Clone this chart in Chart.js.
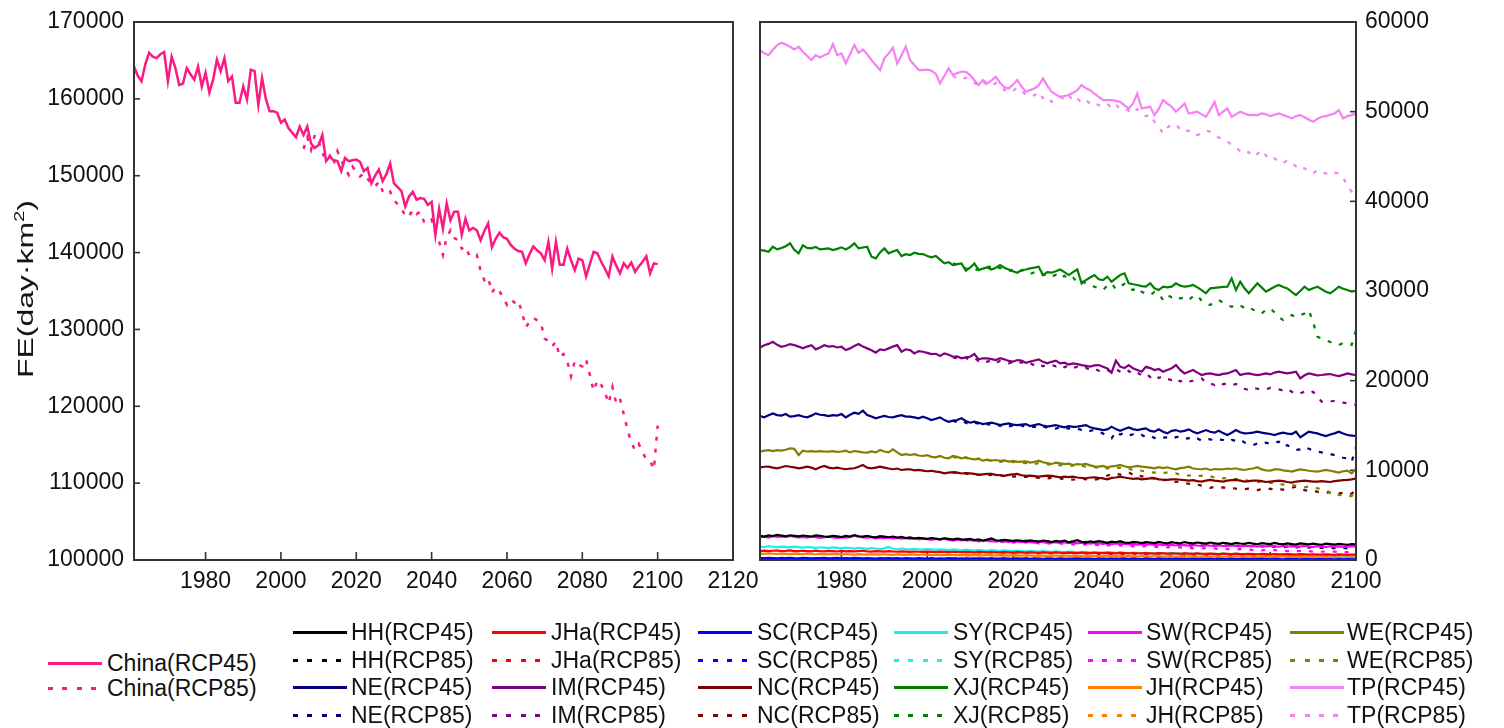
<!DOCTYPE html>
<html>
<head>
<meta charset="utf-8">
<script src="https://cdn.jsdelivr.net/npm/chart.js@4.4.1/dist/chart.umd.min.js"></script>
<style>
  html, body { margin: 0; padding: 0; background: #fff; }
  body { width: 1504px; height: 728px; position: relative; overflow: hidden;
         font-family: "Liberation Sans", Arial, sans-serif; color: #111; }
  #chartLeft  { position: absolute; left: 0;     top: -20px; width: 790px; height: 640px; }
  #chartRight { position: absolute; left: 720px; top: -20px; width: 784px; height: 640px; }
  .ytitle { position: absolute; left: 26px; top: 289px; font-size: 22px; white-space: nowrap;
            transform: translate(-50%, -50%) rotate(-90deg) scaleX(1.45); line-height: 24px; }
  .ytitle sup { font-size: 14px; vertical-align: 9px; line-height: 0; }
  .lg-text { position: absolute; font-size: 23px; line-height: 26px; white-space: nowrap; color: #111; }
  .lg-line { position: absolute; height: 3px; }
</style>
</head>
<body>
<canvas id="chartLeft" width="790" height="640"></canvas>
<canvas id="chartRight" width="784" height="640"></canvas>
<div class="ytitle">FE(day·km<sup>2</sup>)</div>
<div id="legend"></div>
<script>
// ---- tick labels ----
const xTicksLeft  = [1980, 2000, 2020, 2040, 2060, 2080, 2100, 2120];
const xTicksRight = [1980, 2000, 2020, 2040, 2060, 2080, 2100];
const yTicksLeft  = [100000, 110000, 120000, 130000, 140000, 150000, 160000, 170000];
const yTicksRight = [0, 10000, 20000, 30000, 40000, 50000, 60000];

// ---- first years of the two scenario runs ----
const startRCP45 = 1961;   // historical + RCP4.5, 1961-2100
const startRCP85 = 2006;   // RCP8.5, 2006-2100

// ---- China total FE (day·km²) ----
const china45 = [
  164200,163000,162300,164500,166000,165500,165300,165800,166100,162300,
  165500,164000,161800,162000,164000,163200,162500,164200,161600,163400,
  160800,162500,165100,163600,165300,162300,162900,159500,159500,161600,
  159900,163800,163600,159200,162700,160000,158400,158400,158200,156900,
  157300,156200,155600,155000,156400,155300,156400,154200,153600,154000,
  155300,151900,152500,152000,151900,150600,152300,151900,152000,152100,
  151800,150600,151000,149000,150000,150800,149300,150200,151600,149000,
  148500,148000,146000,147300,147900,146900,147100,147000,146200,146600,
  142300,145700,143100,146400,144200,145300,145300,142300,144400,142900,
  143200,142900,141600,142800,143800,140700,141800,142600,142000,141800,
  141000,140500,140200,140100,138600,139800,140800,140300,139900,139000,
  141400,137900,141400,138400,138400,140500,139000,137700,139200,139000,
  136900,138500,140100,139900,138800,137900,136900,139500,138300,137300,
  138600,138000,138700,137500,138200,138800,139500,137300,138600,138500
];
const china85 = [
  153500,155000,153400,155300,154500,
  153000,152000,152600,151500,153200,152000,151000,150100,151200,150500,
  149900,150300,149600,149000,148600,149200,148000,147500,147900,146800,
  146300,145800,144700,144700,145600,145000,145300,144000,143800,144300,
  142500,141400,139700,142000,142900,141900,141600,140500,140800,139600,
  139500,139700,137600,136400,136800,134800,135500,135000,134100,133200,
  133900,133500,133800,132200,130300,131000,131500,131200,130900,128800,
  128500,127800,128400,126400,126800,125900,123900,125900,125400,125200,
  126100,124100,122000,123400,122800,121800,120400,122500,120400,121000,
  119000,116900,115300,114300,115100,114000,113100,112900,111800,117500
];

// ---- regional FE (day·km²) ----
const tp45 = [
  56870,56500,56310,56900,57420,57680,57500,57240,56940,57240,
  56680,56200,55750,56310,56050,56300,56490,57530,56310,56490,
  55380,56400,57420,56570,56940,56400,55750,55200,54640,55940,
  56500,57130,55380,56300,57240,55750,55200,54640,54640,54700,
  54570,54200,53150,54000,54820,54080,54300,54450,54450,54080,
  53500,52960,53520,53150,53500,53890,53200,52710,52590,53000,
  53520,52800,52220,52400,52590,52960,53710,52900,52220,51900,
  51660,51750,51850,52100,52400,52960,52600,52400,52000,51660,
  51290,51300,51290,51200,51100,50700,50360,50920,52030,50360,
  50450,50550,49620,50300,51290,50900,50550,49990,50400,50920,
  49800,49900,49990,49700,49430,50200,51100,49620,50000,50360,
  49430,49700,49990,49800,49620,49650,49620,49800,49700,49500,
  49650,49800,49620,49450,49250,49500,49620,49370,49100,48870,
  49200,49430,49500,49650,49800,50170,49250,49500,49620,49800
];
const tp85 = [
  54000,53700,53520,53800,53600,
  53200,52900,53300,53000,52800,53200,52900,52400,52590,52300,
  52700,52300,51900,52030,51800,52200,51500,51700,51100,51300,
  51600,51400,51900,51200,51500,51000,51290,50900,51100,50700,
  50920,50920,50400,50800,50300,50360,50100,49800,50300,49800,
  49500,49700,48870,48300,47570,48200,48600,48600,48000,47700,
  47900,47400,47390,47600,47900,47760,47300,47100,47020,46700,
  46270,46000,45600,45270,45500,44970,45300,45720,45100,44600,
  44800,44400,44230,44600,44300,43900,43490,43700,43300,43110,
  43500,43300,43100,42930,43200,43110,42700,41630,41100,40700
];
const xj45 = [
  34570,34500,34380,34940,34640,34800,34990,35310,34600,34200,
  35100,34800,34750,34900,34640,34700,34750,34570,34700,34870,
  34640,34900,35310,34750,34850,34940,33820,33640,34300,34750,
  34200,34400,34570,33900,34100,34010,34270,34150,34120,33900,
  33750,33900,33500,33080,33200,32890,33000,33080,32260,32600,
  33080,32330,32500,32630,32400,32600,32890,32600,32400,32200,
  32040,32330,32400,32520,32600,32700,31780,32100,32040,32200,
  32400,32100,31780,32100,32400,30850,31220,31500,31780,31300,
  31220,31600,31040,31400,31780,31970,30850,30750,30670,30550,
  30480,30850,30300,30110,30480,30400,30480,30850,30600,30480,
  30550,30670,30410,30100,29740,30290,30350,30410,30450,30480,
  31410,30110,31040,30300,29740,30300,30850,30400,29920,30200,
  30480,30670,30450,30290,29900,29550,30000,30480,30110,30300,
  30480,30200,29920,29740,30100,30480,30250,30110,29920,30000
];
const xj85 = [
  33080,32900,32700,32500,32400,
  32260,32500,32600,32700,32700,32400,32600,32300,32200,32400,
  32100,32300,32150,31900,32100,31900,31780,31900,31600,31800,
  31400,31700,31300,31500,31000,31200,30800,30700,30480,30300,
  30110,30600,30850,30200,30500,30800,30300,30110,30400,29920,
  29700,29550,29900,29740,29000,29550,29300,29500,29170,29300,
  29000,29400,29550,28900,28600,28430,28800,28990,28700,28400,
  28250,28500,28400,28100,28250,27900,27800,27500,27900,28060,
  27600,27100,26760,27000,27320,27100,27300,27500,27870,26500,
  24900,24700,24530,24300,24100,23970,24200,24160,24000,25640
];
const im45 = [
  23710,23960,24100,24340,24000,23780,23900,24080,23960,23800,
  23600,23800,23960,23490,23700,23960,23800,23860,23700,23780,
  23410,23600,23860,24080,23800,23600,23400,23120,23490,23400,
  23600,23800,23960,23230,23500,23410,23040,23300,23230,23100,
  22970,23000,22750,23040,22900,22670,22700,22490,22600,22670,
  22970,22380,22500,22490,22400,22300,22500,22380,22200,22120,
  22300,22230,22000,22120,22250,22380,22100,21930,22100,22230,
  21930,22000,21800,21930,21850,21740,21650,21560,21700,21740,
  21550,21370,20890,22230,21560,21400,21740,21370,21200,21000,
  21560,21400,21190,21300,21000,21200,21370,21740,21200,20810,
  21000,21190,20900,20630,20750,20810,20700,20630,20750,20810,
  21000,21190,20630,20750,20810,20700,20630,20700,20810,20700,
  20900,21000,20900,20810,20900,21000,20260,20600,20810,20700,
  20600,20630,20700,20740,20600,20520,20650,20810,20700,20630
];
const im85 = [
  22600,22500,22400,22550,22300,
  22500,22200,22350,22100,22300,22000,22200,22000,21930,22100,
  21900,22050,21800,21950,21700,21900,21600,21800,21750,21600,
  21800,21500,21700,21400,21550,21300,21450,21200,21350,21100,
  21000,21200,20900,21300,21000,20800,21100,20700,20900,20600,
  20800,20400,20700,20300,20500,20200,20070,20300,19900,20100,
  19890,20000,20150,20260,19800,19700,19520,19800,19600,19700,
  19500,19630,19300,19100,18950,19200,19100,19000,19030,19200,
  19100,19030,18900,19100,18770,18500,18580,18800,18600,18770,
  18200,17660,17800,17700,17730,17600,17550,17470,17400,17300
];
const ne45 = [
  16060,15910,16150,16350,16160,16100,16280,15980,16050,16160,
  16000,15910,16100,16350,16200,16160,16050,16160,16100,16280,
  15910,16200,16430,16300,16650,16160,16000,15800,15950,16060,
  15950,15910,16050,16160,16000,15980,15900,15800,15980,15800,
  15610,15750,15910,15600,15420,15550,15610,15800,15500,15310,
  15420,15300,15160,15250,15310,15200,15050,15150,15240,15100,
  15050,15100,15160,14940,15050,15160,15000,14870,14950,15050,
  14900,14790,14940,14850,14870,14950,15050,14800,14680,14600,
  14490,14570,14870,14600,14420,14600,14790,14600,14490,14600,
  14680,14400,14310,14570,14300,14120,14400,14490,14310,14400,
  14570,14300,14120,14300,14490,14300,14200,14420,14150,13940,
  14200,14490,14250,14120,14150,14200,14310,14200,14120,14050,
  13940,14100,14200,14100,14050,14310,13680,14000,14310,14200,
  14120,13950,13830,14000,14120,14310,14100,13940,13880,13830
];
const ne85 = [
  15500,15400,15600,15300,15100,
  15300,15200,15000,15150,15050,15200,14950,15100,14900,15000,
  14850,15000,14800,14900,14850,14700,14900,14750,14800,14650,
  14800,14600,14700,14550,14650,14500,14600,14400,14500,14300,
  14100,13800,13570,14310,14000,14200,13900,14000,13800,13950,
  13700,13850,13600,13800,13650,13680,13500,13700,13750,13500,
  13600,13400,13550,13300,13500,13460,13300,13450,13380,13200,
  13400,13300,13460,13100,13000,12820,13000,12900,13090,12950,
  13100,13200,12630,12800,12500,12270,12340,12600,12400,12200,
  12080,12000,11900,11820,11700,11530,11400,11330,10970,12600
];
const we45 = [
  12080,12200,12260,12150,12250,12190,12300,12450,12400,11710,
  12190,12100,12150,12080,12150,12100,12080,12150,12050,12100,
  12190,12000,12150,12080,12000,11970,12100,12000,12260,12100,
  12000,12340,12000,11710,11800,11710,11800,11650,11600,11700,
  11500,11450,11600,11400,11340,11600,11500,11340,11450,11300,
  11230,11300,11080,11200,11100,11150,11050,11100,10970,11050,
  10950,10970,11000,10860,10950,11080,10900,10800,10710,10850,
  10780,10700,10750,10600,10700,10650,10710,10550,10450,10410,
  10500,10340,10450,10500,10600,10450,10340,10400,10500,10410,
  10350,10300,10230,10350,10250,10340,10200,10120,10250,10300,
  10410,10200,10150,10120,10200,10040,10150,10100,10120,10200,
  10150,10230,10100,10040,10150,10200,10340,10100,10000,9970,
  10100,10120,10000,9950,9860,10000,10100,10040,9950,9900,
  9860,9950,10040,9950,9850,9750,9900,9970,9660,10150
];
const we85 = [
  11500,11400,11300,11450,11250,
  11200,11300,11100,11150,11050,11100,10950,11000,10900,10950,
  10850,10900,10800,10850,10700,10800,10650,10700,10600,10650,
  10550,10600,10500,10550,10450,10500,10400,10450,10350,10300,
  10400,10200,10350,10250,10300,10150,10200,10000,10100,9950,
  9900,9800,9740,9850,9700,9750,9600,9650,9500,9550,
  9400,9500,9350,9400,9300,9350,9200,9250,9100,9150,
  9000,9050,8900,8950,8800,8850,8700,8750,8600,8650,
  8500,8550,8400,8450,8350,8300,8250,8100,8200,8180,
  8000,7900,7800,7490,7600,7250,7230,7060,7150,7800
];
const nc45 = [
  10330,10400,10410,10300,10230,10350,10480,10400,10330,10230,
  10300,10410,10300,10120,10350,10480,10300,10230,10300,10200,
  10120,10200,10230,10400,10600,10300,10230,10300,10410,10300,
  10200,10120,10200,10040,10100,10120,10000,10050,9970,9900,
  9950,9860,9800,9670,9750,9800,9750,9650,9700,9670,
  9600,9490,9550,9600,9600,9500,9450,9380,9500,9550,
  9600,9450,9380,9400,9350,9300,9350,9400,9380,9300,
  9230,9300,9250,9300,9200,9150,9120,9200,9230,9150,
  9100,9000,9150,9200,9300,9200,9120,9050,9100,9000,
  9050,9100,9120,9000,8950,8930,9000,9000,8950,8900,
  8860,8900,8800,8750,8850,8930,8850,8800,8750,8850,
  8900,8930,8850,8750,8800,8850,8860,8800,8700,8750,
  8800,8860,8800,8700,8640,8750,8800,8860,8800,8750,
  8750,8800,8750,8700,8800,8860,8900,8930,9000,9100
];
const nc85 = [
  9700,9750,9600,9650,9550,
  9600,9500,9550,9450,9500,9400,9450,9350,9400,9300,
  9350,9250,9300,9200,9250,9150,9200,9100,9150,9050,
  9100,9000,9050,8950,9000,9050,9000,9100,8950,9050,
  9200,9400,9600,9680,9500,9700,9780,9500,9600,9300,
  9400,9200,9100,9000,8900,8950,8800,8700,8750,8600,
  8500,8550,8400,8300,8200,8040,8150,8050,8100,8000,
  8050,7950,8000,7900,7950,7850,7800,7900,7850,7950,
  7800,7900,7850,7950,8050,8180,7940,7800,7700,7750,
  7600,7650,7500,7550,7450,7430,7500,7300,7400,7800
];
const hh45 = [
  2700,2620,2750,2680,2800,2720,2650,2760,2700,2640,
  2730,2680,2600,2750,2690,2620,2580,2700,2640,2560,
  2680,2620,2780,2650,2600,2700,2580,2520,2650,2600,
  2540,2620,2500,2580,2450,2520,2400,2480,2420,2350,
  2450,2380,2300,2420,2350,2280,2380,2300,2250,2350,
  2220,2300,2180,2280,2400,2200,2150,2250,2180,2100,
  2200,2150,2080,2180,2120,2050,2150,2100,2000,2120,
  2050,2150,1980,2080,2200,2020,1950,2080,2000,2100,
  2020,1920,2050,1980,2100,1950,1900,2020,1980,1880,
  2000,1950,1880,2020,1920,1850,1980,1900,1860,2000,
  1900,1850,1950,1880,1820,1950,1870,1800,1920,1850,
  1780,1900,1840,1800,1920,1830,1760,1880,1820,1780,
  1900,1800,1750,1850,1780,1720,1860,1800,1750,1820,
  1760,1700,1820,1780,1720,1800,1740,1700,1780,1750
];
const hh85 = [
  2300,2380,2260,2320,2250,
  2300,2200,2260,2180,2300,2150,2220,2120,2200,2100,
  2180,2080,2150,2050,2120,2000,2100,2020,1980,2080,
  2000,2100,1950,2050,1980,1920,2030,1950,1880,2000,
  1900,1850,1980,1880,1820,1920,1800,1880,1780,1750,
  1850,1760,1700,1800,1720,1680,1780,1700,1650,1720,
  1660,1600,1700,1620,1580,1660,1600,1550,1640,1580,
  1520,1600,1540,1500,1580,1520,1460,1550,1500,1450,
  1520,1460,1420,1500,1440,1400,1480,1420,1380,1450,
  1400,1350,1420,1370,1320,1400,1350,1300,1380,1330
];
const sw45 = [
  2550,2600,2500,2650,2580,2620,2540,2680,2600,2520,
  2580,2500,2620,2560,2480,2550,2600,2520,2460,2540,
  2500,2580,2720,2600,2520,2480,2560,2420,2500,2440,
  2520,2400,2460,2380,2450,2350,2400,2300,2380,2320,
  2250,2340,2280,2400,2250,2200,2300,2180,2260,2200,
  2150,2220,2100,2180,2120,2060,2150,2080,2020,2100,
  2050,1980,2080,2000,1950,2050,1980,1920,2000,1950,
  1900,1980,1880,1950,1850,1920,1880,1820,1900,1850,
  1800,1880,1780,1850,1760,1820,1750,1800,1720,1780,
  1700,1760,1680,1740,1650,1720,1680,1620,1700,1660,
  1600,1680,1620,1580,1660,1600,1560,1640,1580,1550,
  1620,1560,1520,1600,1540,1580,1500,1560,1520,1580,
  1520,1480,1560,1500,1540,1470,1520,1560,1500,1460,
  1540,1500,1460,1530,1480,1520,1450,1500,1540,1500
];
const sw85 = [
  2180,2260,2150,2220,2120,
  2180,2080,2140,2050,2120,2000,2080,1980,2040,1950,
  2020,1920,1980,1880,1950,1850,1920,1820,1880,1800,
  1860,1780,1820,1740,1800,1700,1760,1680,1720,1650,
  1700,1620,1680,1580,1640,1550,1600,1520,1580,1500,
  1540,1460,1500,1420,1480,1400,1440,1360,1420,1340,
  1380,1300,1360,1280,1320,1240,1300,1220,1260,1200,
  1240,1160,1220,1140,1180,1100,1160,1080,1120,1060,
  1100,1040,1080,1000,1060,980,1020,960,1000,940,
  980,920,960,900,940,880,920,860,900,880
];
const sy45 = [
  1500,1450,1550,1480,1420,1500,1460,1400,1480,1430,
  1380,1450,1400,1350,1420,1380,1320,1400,1360,1300,
  1380,1330,1280,1350,1300,1250,1320,1280,1220,1300,
  1450,1250,1200,1280,1220,1180,1250,1200,1150,1220,
  1180,1130,1200,1150,1100,1170,1120,1080,1150,1100,
  1050,1120,1080,1020,1100,1050,1000,1070,1020,980,
  1040,990,950,1020,970,930,990,950,900,960,
  920,880,940,900,860,920,870,830,890,850,
  820,880,840,800,850,810,780,830,790,760,
  810,770,740,790,750,720,770,730,700,750,
  720,690,740,700,670,720,680,650,700,670,
  640,690,650,620,670,630,600,650,620,590,
  640,600,580,620,590,560,610,580,550,600,
  570,540,590,560,530,580,550,520,570,550
];
const sy85 = [
  1150,1100,1160,1080,1120,
  1060,1110,1040,1000,1070,1010,980,1040,980,950,
  1000,940,910,970,920,880,940,890,850,900,
  860,820,880,830,800,850,800,770,820,780,
  740,800,750,720,770,720,690,740,700,670,
  710,670,640,690,650,620,660,620,590,640,
  600,570,620,580,550,590,550,520,570,530,
  500,550,510,480,530,490,460,510,470,450,
  490,450,430,470,440,410,450,420,400,440,
  410,380,420,390,370,410,380,350,390,360
];
const jha45 = [
  1000,1050,980,1030,1060,990,1020,1070,1000,980,
  1030,1000,970,1040,990,960,1020,980,950,1010,
  970,1000,960,990,1030,960,940,990,960,930,
  980,950,920,970,940,910,950,920,900,940,
  910,890,930,900,880,920,890,870,900,880,
  860,900,870,850,890,860,840,880,850,830,
  870,840,820,860,830,810,850,820,800,840,
  810,790,830,800,780,820,790,770,810,780,
  760,800,770,750,790,760,740,780,750,730,
  770,740,720,760,730,710,750,720,700,740,
  710,690,730,700,680,720,690,670,710,680,
  660,700,670,650,690,660,640,680,650,630,
  670,640,620,660,630,610,650,620,600,640,
  610,590,630,600,580,620,590,570,610,590
];
const jha85 = [
  900,870,910,880,860,
  890,860,840,870,840,820,860,830,810,840,
  810,790,830,800,780,810,780,760,790,760,
  740,780,750,730,760,730,710,740,710,690,
  720,690,670,710,680,660,690,660,640,670,
  640,620,660,630,610,640,610,590,620,590,
  570,600,580,560,590,560,540,570,540,520,
  550,530,510,540,510,490,520,500,480,510,
  490,470,500,480,460,490,470,450,480,460,
  440,470,450,430,460,440,420,450,430,440
];
const jh45 = [
  720,680,740,700,670,720,690,650,710,680,
  660,700,670,640,690,660,630,680,650,620,
  670,640,610,660,630,600,650,620,590,640,
  610,580,630,600,570,620,590,560,610,580,
  550,600,570,540,590,560,530,580,550,520,
  570,540,510,560,530,500,550,520,490,540,
  510,480,530,500,470,520,490,460,510,480,
  450,500,470,440,490,460,430,480,450,420,
  470,440,410,460,430,400,450,420,390,440,
  410,380,430,400,370,420,390,360,410,380,
  420,390,360,410,380,350,400,370,340,390,
  360,400,370,340,390,360,330,380,350,320,
  370,340,390,360,330,380,350,320,370,340,
  310,360,330,300,350,320,290,340,310,330
];
const jh85 = [
  560,530,580,540,510,
  550,520,490,540,510,480,530,500,470,510,
  480,450,500,470,440,480,450,420,460,430,
  400,450,420,390,430,400,370,410,380,350,
  390,360,330,380,350,320,360,330,300,340,
  310,290,330,300,270,310,280,260,300,270,
  250,290,260,240,280,250,230,270,240,220,
  260,230,210,250,220,200,240,210,190,230,
  200,180,220,190,170,210,180,160,200,170,
  150,190,160,140,180,150,130,170,140,160
];
const sc45 = [
  220,200,240,210,190,230,200,250,210,190,
  230,200,180,220,200,240,190,210,230,180,
  210,190,230,200,180,220,190,170,210,190,
  220,180,200,170,210,190,160,200,180,170,
  200,170,190,160,200,180,160,190,170,150,
  190,160,180,150,190,170,150,180,160,140,
  180,150,170,140,180,160,140,170,150,130,
  170,140,160,130,170,150,130,160,140,120,
  160,140,120,150,130,160,120,150,130,110,
  150,130,110,150,120,140,110,140,120,100,
  140,120,100,140,110,130,100,130,110,90,
  130,110,90,130,100,120,90,120,100,80,
  120,100,80,120,90,110,80,110,90,70,
  110,90,70,110,80,100,70,100,80,90
];
const sc85 = [
  170,150,180,160,140,
  170,150,130,160,140,170,130,150,120,150,
  130,110,140,120,150,110,130,100,130,110,
  90,120,100,130,90,110,80,110,90,70,
  100,80,110,70,90,60,90,70,50,80,
  60,80,50,70,40,70,50,30,60,40,
  60,30,50,30,50,20,40,30,50,20,
  40,20,40,20,30,10,30,20,40,10,
  30,10,30,20,10,30,10,20,10,30,
  10,20,10,20,10,20,10,10,20,10
];

// ---- series styling ----
const FONT = '"Liberation Sans", Arial, sans-serif';
const chinaColor = '#FA1A82';
const regions = [
  { code: 'HH',  color: '#000000', r45: hh45,  r85: hh85 },
  { code: 'JHa', color: '#FF0000', r45: jha45, r85: jha85 },
  { code: 'SC',  color: '#0000FF', r45: sc45,  r85: sc85 },
  { code: 'SY',  color: '#1AF0F0', r45: sy45,  r85: sy85 },
  { code: 'SW',  color: '#FF00FF', r45: sw45,  r85: sw85 },
  { code: 'WE',  color: '#808000', r45: we45,  r85: we85 },
  { code: 'NE',  color: '#000080', r45: ne45,  r85: ne85 },
  { code: 'IM',  color: '#800080', r45: im45,  r85: im85 },
  { code: 'NC',  color: '#800000', r45: nc45,  r85: nc85 },
  { code: 'XJ',  color: '#008000', r45: xj45,  r85: xj85 },
  { code: 'JH',  color: '#FF8000', r45: jh45,  r85: jh85 },
  { code: 'TP',  color: '#F581F5', r45: tp45,  r85: tp85 }
];
const dashPattern = [4, 8];

function toPoints(start, values) {
  return values.map((v, i) => ({ x: start + i, y: v }));
}
function lineSet(label, color, start, values, dashed, width) {
  return {
    label, data: toPoints(start, values),
    borderColor: color, backgroundColor: color,
    borderWidth: width, borderDash: dashed ? dashPattern : [],
    pointRadius: 0, tension: 0, fill: false
  };
}

// axis frame with inward tick marks
const framePlugin = {
  id: 'frame',
  beforeDatasetsDraw(chart) {
    const { ctx, chartArea: a, scales } = chart;
    ctx.save();
    ctx.strokeStyle = '#333';
    ctx.lineWidth = 1.6;
    scales.x.ticks.forEach(t => {
      const px = scales.x.getPixelForValue(t.value);
      ctx.beginPath(); ctx.moveTo(px, a.bottom); ctx.lineTo(px, a.bottom - 8); ctx.stroke();
    });
    const ys = scales.y;
    const right = ys.position === 'right';
    const x0 = right ? a.right : a.left;
    const dir = right ? -1 : 1;
    ys.ticks.forEach(t => {
      const py = ys.getPixelForValue(t.value);
      ctx.beginPath(); ctx.moveTo(x0, py); ctx.lineTo(x0 + dir * 6, py); ctx.stroke();
    });
    ctx.restore();
  },
  afterDatasetsDraw(chart) {
    const { ctx, chartArea: a } = chart;
    ctx.save();
    ctx.strokeStyle = '#333';
    ctx.lineWidth = 2;
    ctx.strokeRect(a.left, a.top, a.right - a.left, a.bottom - a.top);
    ctx.restore();
  }
};

function axisTicks(list) {
  return scale => { scale.ticks = list.map(v => ({ value: v })); };
}
const tickFont = { family: FONT, size: 23 };

function baseOptions(cfg) {
  return {
    responsive: false, animation: false, devicePixelRatio: 1,
    layout: { padding: cfg.padding },
    plugins: { legend: { display: false }, tooltip: { enabled: false } },
    scales: {
      x: {
        type: 'linear', min: cfg.xMin, max: cfg.xMax,
        afterBuildTicks: axisTicks(cfg.xTicks),
        afterFit: s => { s.height = 60; },
        grid: { display: false, drawTicks: false }, border: { display: false },
        ticks: { padding: 8, font: tickFont, color: '#111', maxRotation: 0, autoSkip: false,
                 callback: v => String(v) }
      },
      y: {
        type: 'linear', position: cfg.yPos, min: cfg.yMin, max: cfg.yMax,
        afterBuildTicks: axisTicks(cfg.yTicks),
        afterFit: s => { s.width = cfg.yWidth; },
        grid: { display: false, drawTicks: false }, border: { display: false },
        ticks: { padding: cfg.yPad, font: tickFont, color: '#111', autoSkip: false,
                 callback: v => String(v) }
      }
    }
  };
}

// left panel: China
new Chart(document.getElementById('chartLeft'), {
  type: 'line',
  data: { datasets: [
    lineSet('China(RCP45)', chinaColor, startRCP45, china45, false, 2.5),
    lineSet('China(RCP85)', chinaColor, startRCP85, china85, true, 2.5)
  ] },
  options: baseOptions({
    padding: { top: 42, right: 57, bottom: 0, left: 0 },
    xMin: 1961, xMax: 2120, xTicks: xTicksLeft,
    yMin: 100000, yMax: 170000, yTicks: yTicksLeft,
    yPos: 'left', yWidth: 134, yPad: 10
  }),
  plugins: [framePlugin]
});

// right panel: regions
const regionSets = [];
regions.forEach(r => regionSets.push(lineSet(r.code + '(RCP45)', r.color, startRCP45, r.r45, false, 2.2)));
regions.forEach(r => regionSets.push(lineSet(r.code + '(RCP85)', r.color, startRCP85, r.r85, true, 2.2)));
new Chart(document.getElementById('chartRight'), {
  type: 'line',
  data: { datasets: regionSets },
  options: baseOptions({
    padding: { top: 42, right: 48, bottom: 0, left: 40 },
    xMin: 1961, xMax: 2100, xTicks: xTicksRight,
    yMin: 0, yMax: 60000, yTicks: yTicksRight,
    yPos: 'right', yWidth: 100, yPad: 9
  }),
  plugins: [framePlugin]
});

// ---- legend ----
const legendCols = [
  { line: 293, text: 351 }, { line: 492, text: 551 }, { line: 698, text: 757 },
  { line: 894, text: 953 }, { line: 1088, text: 1146 }, { line: 1290, text: 1347 }
];
const legendRows = [632, 660, 687, 715];
const legendBox = document.getElementById('legend');
function addLegendItem(label, color, dashed, lineX, textX, yc) {
  const ln = document.createElement('div');
  ln.className = 'lg-line';
  ln.style.left = lineX + 'px';
  ln.style.top = (yc - 1.5) + 'px';
  ln.style.width = '54px';
  ln.style.background = dashed
    ? 'repeating-linear-gradient(to right, ' + color + ' 0 5px, transparent 5px 14.5px)'
    : color;
  legendBox.appendChild(ln);
  const tx = document.createElement('div');
  tx.className = 'lg-text';
  tx.style.left = textX + 'px';
  tx.style.top = (yc - 13) + 'px';
  tx.textContent = label;
  legendBox.appendChild(tx);
}
addLegendItem('China(RCP45)', chinaColor, false, 48, 107, 663);
addLegendItem('China(RCP85)', chinaColor, true, 48, 107, 688);
regions.forEach((r, i) => {
  const col = legendCols[i % 6];
  const group = Math.floor(i / 6);
  addLegendItem(r.code + '(RCP45)', r.color, false, col.line, col.text, legendRows[group * 2]);
  addLegendItem(r.code + '(RCP85)', r.color, true, col.line, col.text, legendRows[group * 2 + 1]);
});
</script>
</body>
</html>
